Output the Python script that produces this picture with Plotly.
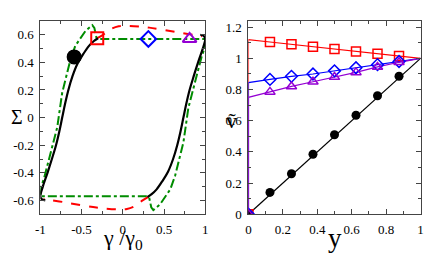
import plotly.graph_objects as go

# ---------------- left panel data ----------------
black_up_x = [-0.94, -0.985, -1.0, -0.97, -0.913, -0.86, -0.81, -0.77, -0.735, -0.70, -0.66, -0.61, -0.55, -0.48, -0.41, -0.35, -0.30]
black_up_y = [-0.60, -0.59, -0.57, -0.50, -0.40, -0.30, -0.20, -0.10, 0.0, 0.10, 0.20, 0.30, 0.39, 0.46, 0.52, 0.555, 0.575]
black_dn_x = [0.94, 0.985, 1.0, 0.97, 0.913, 0.86, 0.81, 0.77, 0.735, 0.70, 0.66, 0.61, 0.55, 0.48, 0.41, 0.35, 0.30]
black_dn_y = [0.60, 0.59, 0.57, 0.50, 0.40, 0.30, 0.20, 0.10, 0.0, -0.10, -0.20, -0.30, -0.39, -0.46, -0.52, -0.555, -0.575]

red_top_x = [-0.31, -0.24, -0.15, -0.05, 0.05, 0.2, 0.32, 0.5, 0.72, 0.9, 0.96]
red_top_y = [0.575, 0.60, 0.64, 0.662, 0.665, 0.66, 0.652, 0.635, 0.612, 0.595, 0.59]
red_bot_x = [0.31, 0.24, 0.15, 0.05, -0.05, -0.2, -0.32, -0.5, -0.72, -0.9, -0.96]
red_bot_y = [-0.575, -0.60, -0.64, -0.662, -0.665, -0.66, -0.652, -0.635, -0.612, -0.595, -0.59]

green_x = [1.0, 0.99, 0.955, 0.87, 0.795, 0.735, 0.67, 0.635, 0.576, 0.52, 0.45, 0.37, 0.345, 0.32, 0.30, -1.0,
           -0.99, -0.955, -0.87, -0.795, -0.735, -0.67, -0.635, -0.576, -0.52, -0.45, -0.37, -0.345, -0.32, -0.30, 1.0]
green_y = [0.57, 0.50, 0.44, 0.235, 0.07, -0.18, -0.33, -0.42, -0.52, -0.57, -0.63, -0.67, -0.65, -0.58, -0.57, -0.57,
           -0.50, -0.44, -0.235, -0.07, 0.18, 0.33, 0.42, 0.52, 0.57, 0.63, 0.67, 0.65, 0.58, 0.57, 0.57]

pt_x = [-0.59, -0.31, 0.31, 0.81]
pt_y = [0.44, 0.575, 0.57, 0.57]
pt_sym = ["circle", "square-open", "diamond-open", "triangle-up-open"]
pt_col = ["black", "red", "blue", "rgb(148,0,211)"]

# ---------------- right panel data ----------------
y_line = [0, 0, 0.125, 0.25, 0.375, 0.5, 0.625, 0.75, 0.875, 1.0]
y_mark = [0, 0.125, 0.25, 0.375, 0.5, 0.625, 0.75, 0.875]
v_black = [0, 0.14, 0.26, 0.385, 0.51, 0.635, 0.76, 0.885]
v_red = [0, 1.12, 1.105, 1.09, 1.075, 1.06, 1.045, 1.03, 1.015, 1.0]
v_blue = [0, 0.845, 0.865, 0.885, 0.90, 0.92, 0.94, 0.96, 0.98, 1.0]
v_purple = [0, 0.75, 0.785, 0.82, 0.85, 0.88, 0.91, 0.945, 0.975, 1.0]
black_line_y = [0, 1.0]
black_line_v = [0, 1.0]

PURPLE = "rgb(148,0,211)"
GREEN = "rgb(0,140,0)"

fig = go.Figure()
# left panel
fig.add_trace(go.Scatter(x=green_x, y=green_y, mode="lines", line=dict(color=GREEN, width=2, dash="dashdot"), xaxis="x", yaxis="y"))
fig.add_trace(go.Scatter(x=red_top_x, y=red_top_y, mode="lines", line=dict(color="red", width=2, dash="dash", shape="spline"), xaxis="x", yaxis="y"))
fig.add_trace(go.Scatter(x=red_bot_x, y=red_bot_y, mode="lines", line=dict(color="red", width=2, dash="dash", shape="spline"), xaxis="x", yaxis="y"))
fig.add_trace(go.Scatter(x=black_up_x, y=black_up_y, mode="lines", line=dict(color="black", width=2.2, shape="spline"), xaxis="x", yaxis="y"))
fig.add_trace(go.Scatter(x=black_dn_x, y=black_dn_y, mode="lines", line=dict(color="black", width=2.2, shape="spline"), xaxis="x", yaxis="y"))
for xx, yy, s, c in zip(pt_x, pt_y, pt_sym, pt_col):
    fig.add_trace(go.Scatter(x=[xx], y=[yy], mode="markers",
                             marker=dict(symbol=s, size=12 if s != "circle" else 13, color=c, line=dict(color=c, width=2)),
                             xaxis="x", yaxis="y"))

# right panel
fig.add_trace(go.Scatter(x=black_line_y, y=black_line_v, mode="lines", line=dict(color="black", width=1.2), xaxis="x2", yaxis="y2"))
fig.add_trace(go.Scatter(x=y_line, y=v_red, mode="lines", line=dict(color="red", width=1.2), xaxis="x2", yaxis="y2"))
fig.add_trace(go.Scatter(x=y_line, y=v_blue, mode="lines", line=dict(color="blue", width=1.2), xaxis="x2", yaxis="y2"))
fig.add_trace(go.Scatter(x=y_line, y=v_purple, mode="lines", line=dict(color=PURPLE, width=1.2), xaxis="x2", yaxis="y2"))
fig.add_trace(go.Scatter(x=y_mark, y=v_black, mode="markers", marker=dict(symbol="circle", size=9, color="black"), xaxis="x2", yaxis="y2"))
fig.add_trace(go.Scatter(x=y_mark, y=[v_red[0]] + v_red[2:-1], mode="markers",
                         marker=dict(symbol="square-open", size=9, color="red", line=dict(color="red", width=1.5)), xaxis="x2", yaxis="y2"))
fig.add_trace(go.Scatter(x=y_mark, y=[v_blue[0]] + v_blue[2:-1], mode="markers",
                         marker=dict(symbol="diamond-open", size=9, color="blue", line=dict(color="blue", width=1.5)), xaxis="x2", yaxis="y2"))
fig.add_trace(go.Scatter(x=y_mark, y=[v_purple[0]] + v_purple[2:-1], mode="markers",
                         marker=dict(symbol="triangle-up-open", size=9, color=PURPLE, line=dict(color=PURPLE, width=1.5)), xaxis="x2", yaxis="y2"))

TF = dict(family="Liberation Serif", size=13, color="black")
common = dict(showline=True, mirror="ticks", linecolor="#444", linewidth=1, ticks="inside", ticklen=5,
              tickcolor="#444", showgrid=False, zeroline=False, tickfont=TF, ticklabelstandoff=3)

fig.update_layout(
    width=436, height=265, margin=dict(l=0, r=0, t=0, b=0),
    paper_bgcolor="white", plot_bgcolor="white", showlegend=False,
    xaxis=dict(domain=[36/436, 204/436], range=[-1, 1], tickvals=[-1, -0.5, 0, 0.5, 1], ticktext=["-1", "-0.5", "0", "0.5", "1"],
               minor=dict(dtick=0.25, ticks="inside", ticklen=3, tickcolor="#444"), anchor="y", **common),
    yaxis=dict(domain=[1-220.7/265, 1-20.7/265], range=[-0.7, 0.7], tickvals=[-0.6, -0.4, -0.2, 0, 0.2, 0.4, 0.6],
               ticktext=["-0.6", "-0.4", "-0.2", "0", "0.2", "0.4", "0.6"],
               minor=dict(dtick=0.1, ticks="inside", ticklen=3, tickcolor="#444"), anchor="x", **common),
    xaxis2=dict(domain=[248/436, 423.3/436], range=[0, 1], tickvals=[0, 0.2, 0.4, 0.6, 0.8, 1], ticktext=["0", "0.2", "0.4", "0.6", "0.8", "1"],
                minor=dict(dtick=0.1, ticks="inside", ticklen=3, tickcolor="#444"), anchor="y2", **common),
    yaxis2=dict(domain=[1-220.7/265, 1-20.7/265], range=[0, 1.24], tickvals=[0, 0.2, 0.4, 0.6, 0.8, 1, 1.2],
                ticktext=["0", "0.2", "0.4", "0.6", "0.8", "1", "1.2"],
                minor=dict(dtick=0.1, ticks="inside", ticklen=3, tickcolor="#444"), anchor="x2", **common),
)

ann = [
    dict(text="Σ", x=12, y=120, size=20),
    dict(text="γ /γ<sub>0</sub>", x=120, y=246, size=22),
    dict(text="ṽ", x=231, y=124, size=22),
    dict(text="y", x=336, y=245, size=27),
]
for a in ann:
    fig.add_annotation(text=a["text"], x=a["x"]/436, y=1-a["y"]/265, xref="paper", yref="paper",
                       showarrow=False, xanchor="center", yanchor="middle",
                       font=dict(family="Liberation Serif", size=a["size"], color="black"))

fig.write_html("out.html", config={"displayModeBar": False})

# remove the browser's default page margin so the figure sits at the window's top-left corner
with open("out.html", "r", encoding="utf-8") as f:
    html = f.read()
html = html.replace("<head>", "<head><style>html,body{margin:0;padding:0;overflow:hidden;}</style>", 1)
with open("out.html", "w", encoding="utf-8") as f:
    f.write(html)
